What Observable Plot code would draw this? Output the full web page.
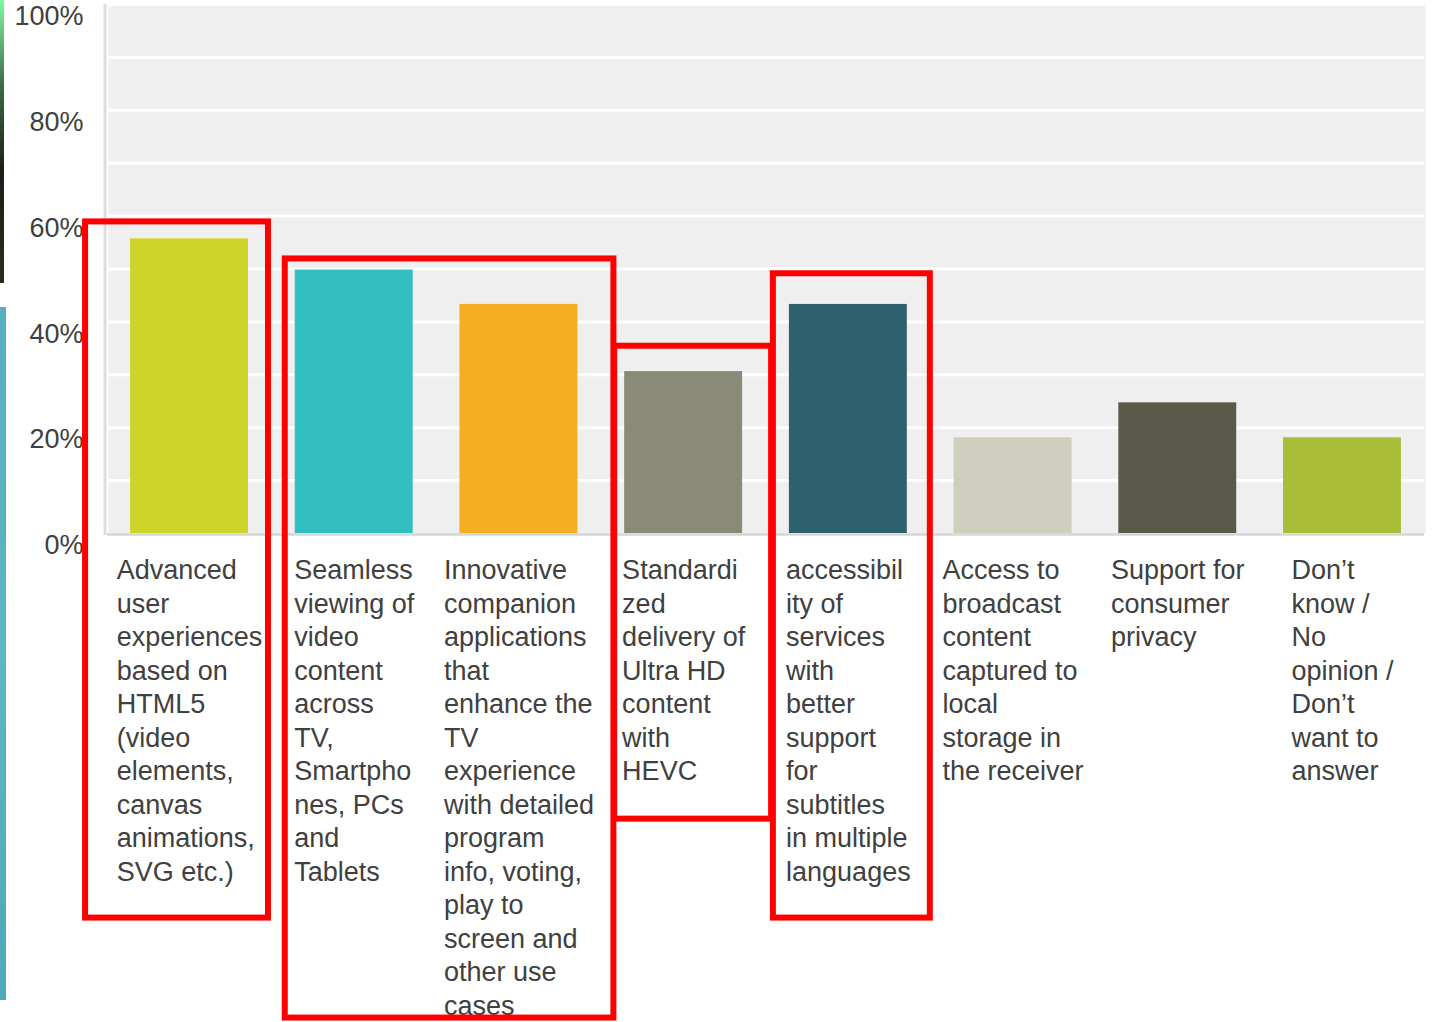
<!DOCTYPE html>
<html>
<head>
<meta charset="utf-8">
<script src="https://cdn.jsdelivr.net/npm/d3@7"></script>
<script src="https://cdn.jsdelivr.net/npm/@observablehq/plot@0.6"></script>
<style>
  html, body { margin: 0; padding: 0; background: #fff; }
  #wrap { position: relative; width: 1435px; height: 1022px; overflow: hidden; }
  #stripA { position: absolute; left: 0; top: 0; width: 4px; height: 283px;
            background: linear-gradient(#7dfca2, #3d6b45 30%, #1c1f18 60%, #2b2a20); }
  #stripB { position: absolute; left: 0; top: 307px; width: 6px; height: 693px;
            background: linear-gradient(#58aebf, #5db6c4 50%, #4eaab8); }
  #chart { position: absolute; left: 0; top: 0; }
</style>
</head>
<body>
<div id="wrap">
  <div id="chart"></div>
  <div id="stripA"></div>
  <div id="stripB"></div>
</div>
<script>
// ---- data ----
const categories = [
  "Advanced user experiences based on HTML5",
  "Seamless viewing of video content across TV, Smartphones, PCs and Tablets",
  "Innovative companion applications",
  "Standardized delivery of Ultra HD content with HEVC",
  "accessibility of services",
  "Access to broadcast content captured to local storage",
  "Support for consumer privacy",
  "Don't know / No opinion"
];
const labels = [
  "Advanced\nuser\nexperiences\nbased on\nHTML5\n(video\nelements,\ncanvas\nanimations,\nSVG etc.)",
  "Seamless\nviewing of\nvideo\ncontent\nacross\nTV,\nSmartpho\nnes, PCs\nand\nTablets",
  "Innovative\ncompanion\napplications\nthat\nenhance the\nTV\nexperience\nwith detailed\nprogram\ninfo, voting,\nplay to\nscreen and\nother use\ncases",
  "Standardi\nzed\ndelivery of\nUltra HD\ncontent\nwith\nHEVC",
  "accessibil\nity of\nservices\nwith\nbetter\nsupport\nfor\nsubtitles\nin multiple\nlanguages",
  "Access to\nbroadcast\ncontent\ncaptured to\nlocal\nstorage in\nthe receiver",
  "Support for\nconsumer\nprivacy",
  "Don\u2019t\nknow /\nNo\nopinion /\nDon\u2019t\nwant to\nanswer"
];
const values = [55.7, 49.8, 43.3, 30.6, 43.3, 18.1, 24.7, 18.1];
const colors = ["#cfd42a", "#33bfc0", "#f5ae1f", "#8a8a78", "#2e616e", "#cfcebf", "#5b5a4a", "#a9bd38"];
const yTicks = [0, 20, 40, 60, 80, 100];
const gridTicks = [10, 20, 30, 40, 50, 60, 70, 80, 90, 100];
// highlight boxes: category span and value extents (in % units)
const boxes = [
  {from: 0, to: 0, top: 58.9, bottom: -72.7, padL: 45, padR: 20},
  {from: 1, to: 2, top: 51.9, bottom: -91.6, padL: 10, padR: 36},
  {from: 3, to: 3, top: 35.4, bottom: -54.0, padL: 10, padR: 29},
  {from: 4, to: 4, top: 49.1, bottom: -72.7, padL: 16, padR: 23}
];

// ---- layout helpers ----
const FONT = "'Liberation Sans', Arial, Helvetica, sans-serif";
const FS = 27;
const ctx = document.createElement("canvas").getContext("2d");
ctx.font = `${FS}px ${FONT}`;
const maxW = labels.map(l => d3.max(l.split("\n"), s => ctx.measureText(s).width));

const data = categories.map((c, i) => ({cat: c, value: values[i], color: colors[i]}));

const chart = Plot.plot({
  width: 1435,
  height: 1022,
  marginLeft: 107,
  marginRight: 11,
  marginTop: 4,
  marginBottom: 489,
  style: {fontFamily: FONT, fontSize: `${FS}px`, color: "#404040", background: "transparent", overflow: "visible"},
  x: {domain: categories, paddingInner: 0.284, paddingOuter: 0.14, round: false, axis: null},
  y: {domain: [0, 100], axis: null},
  marks: [
    Plot.frame({fill: "#efefef", stroke: null, dx: 1, inset: 0}),
    Plot.ruleY(gridTicks, {stroke: "#ffffff", strokeWidth: 3}),
    Plot.barY(data, {x: "cat", y: "value", fill: "color"}),
    Plot.ruleY([0], {stroke: "#d6d6d6", strokeWidth: 2.5, dy: 1}),
    Plot.axisY({ticks: yTicks, tickFormat: d => d + "%", tickSize: 0, tickPadding: 24, dy: 12,
                fontSize: FS, fill: "#404040", label: null}),
    ...categories.map((c, i) => Plot.text([c], {
      x: d => d, y: () => 0, text: () => labels[i],
      textAnchor: "start", lineAnchor: "top", lineHeight: 1.24,
      dx: -maxW[i] / 2, dy: 22, fontSize: FS, fill: "#404040"
    }))
  ]
});

document.getElementById("chart").appendChild(chart);

// ---- overlays drawn from the plot's own scales ----
const sx = chart.scale("x"), sy = chart.scale("y");
const bw = sx.bandwidth;
const svg = d3.select(chart);
// left axis line
svg.append("line")
  .attr("x1", sx.range[0] - 2).attr("x2", sx.range[0] - 2)
  .attr("y1", sy.apply(100)).attr("y2", sy.apply(0) + 2)
  .attr("stroke", "#dddddd").attr("stroke-width", 3);
// red highlight boxes
for (const b of boxes) {
  const x1 = sx.apply(categories[b.from]) - b.padL;
  const x2 = sx.apply(categories[b.to]) + bw + b.padR;
  const y1 = sy.apply(b.top), y2 = sy.apply(b.bottom);
  svg.append("rect")
    .attr("x", x1).attr("y", y1).attr("width", x2 - x1).attr("height", y2 - y1)
    .attr("fill", "none").attr("stroke", "#ff0000").attr("stroke-width", 6);
}
</script>
</body>
</html>
